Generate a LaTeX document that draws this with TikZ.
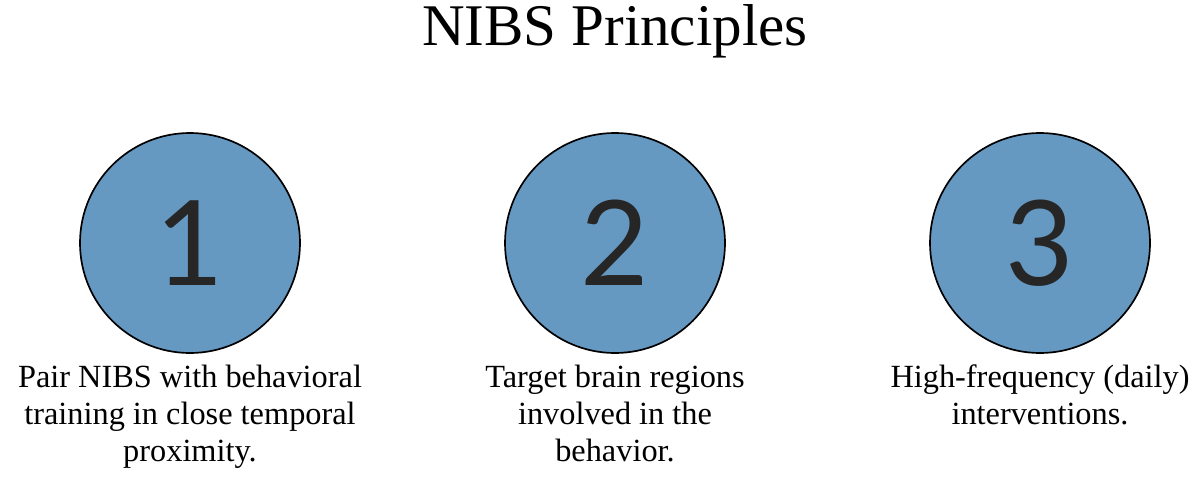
\documentclass[tikz,border=0pt]{standalone}
\usepackage{fontspec}
\setmainfont{Liberation Serif}
\newfontfamily\numfont{Lato}
\usetikzlibrary{positioning}
\definecolor{stepblue}{HTML}{6699C2}
\begin{document}
\begin{tikzpicture}[x=1cm,y=1cm,
  principle/.style={circle,draw,line width=1.2pt,fill=stepblue,minimum size=5.5cm,font=\numfont\fontsize{84}{84}\selectfont,text=black!85},
  caption/.style={align=center,font=\fontsize{23}{26.5}\selectfont,below=0.15cm of #1}]
\useasboundingbox (0,0) rectangle (30,12.225);

\node[font=\fontsize{42}{44}\selectfont] (title) at (15.375,11.45) {NIBS Principles};

\node[principle] (P1) at (4.75,6.15) {1};
\node[principle] (P2) at (15.375,6.15) {2};
\node[principle] (P3) at (26,6.15) {3};

\node[caption=P1] (C1) {Pair NIBS with behavioral\\training in close temporal\\proximity.};
\node[caption=P2] (C2) {Target brain regions\\involved in the\\behavior.};
\node[caption=P3] (C3) {High-frequency (daily)\\interventions.};

\end{tikzpicture}
\end{document}
